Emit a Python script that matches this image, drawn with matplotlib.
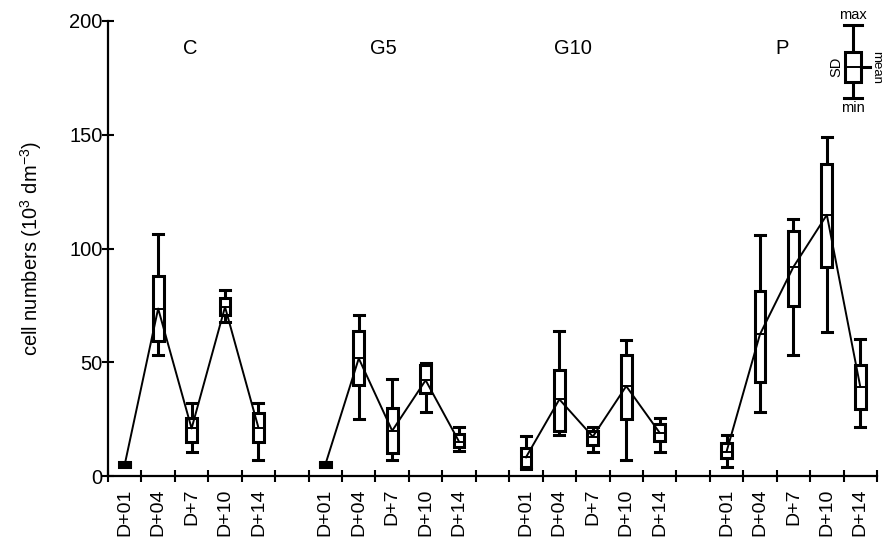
import numpy as np
import matplotlib
matplotlib.use("Agg")
import matplotlib.pyplot as plt

plt.rcParams['font.family'] = ['Liberation Sans', 'DejaVu Sans']
plt.rcParams['mathtext.default'] = 'regular'

# groups and sampling days
groups = ["C", "G5", "G10", "P"]
days = ["D+01", "D+04", "D+7", "D+10", "D+14"]

# mean, box (mean - SD / mean + SD), whiskers (min / max)
c_mean = [5.0, 73.6, 20.9, 74.3, 21.2]
c_lo = [3.9, 59.4, 15.1, 70.7, 14.8]
c_hi = [6.1, 87.8, 25.3, 78.3, 27.9]
c_min = [4.3, 53.4, 10.4, 67.5, 7.0]
c_max = [5.7, 106.5, 31.9, 81.6, 32.2]

g5_mean = [5.0, 51.7, 19.9, 42.1, 15.1]
g5_lo = [3.9, 39.9, 10.0, 36.3, 12.6]
g5_hi = [6.1, 63.8, 30.0, 48.7, 18.3]
g5_min = [4.3, 25.0, 7.0, 28.1, 11.0]
g5_max = [5.7, 70.7, 42.6, 49.5, 21.5]

g10_mean = [8.2, 33.7, 17.3, 39.5, 19.0]
g10_lo = [3.8, 19.9, 13.6, 25.0, 15.4]
g10_hi = [12.4, 46.5, 19.8, 53.4, 22.7]
g10_min = [3.0, 17.9, 10.7, 6.9, 10.7]
g10_max = [17.7, 63.8, 21.5, 60.0, 25.3]

p_mean = [10.7, 62.3, 91.9, 114.8, 39.2]
p_lo = [7.8, 41.4, 74.6, 91.9, 29.3]
p_hi = [14.3, 81.3, 107.5, 137.3, 49.0]
p_min = [4.1, 28.0, 53.1, 63.3, 21.6]
p_max = [18.0, 106.1, 113.1, 149.0, 60.1]

# where each group starts on the x axis (one empty slot between groups)
group_start = [0, 6, 12, 18]
group_label_x = [1.95, 7.75, 13.4, 19.65]

data = [
    (c_mean, c_lo, c_hi, c_min, c_max),
    (g5_mean, g5_lo, g5_hi, g5_min, g5_max),
    (g10_mean, g10_lo, g10_hi, g10_min, g10_max),
    (p_mean, p_lo, p_hi, p_min, p_max),
]

fig = plt.figure(figsize=(8.82, 5.4), dpi=100)
ax = fig.add_axes([108 / 882, 64 / 540, 769 / 882, 455 / 540])

box_w = 0.32
cap_w = 0.3
lw_box = 2.2


def draw_box(x, mean, lo, hi, mn, mx, w=box_w, cw=cap_w, lw=lw_box):
    # whiskers
    ax.plot([x, x], [hi, mx], color="black", lw=lw, solid_capstyle="butt", clip_on=False)
    ax.plot([x, x], [mn, lo], color="black", lw=lw, solid_capstyle="butt", clip_on=False)
    ax.plot([x - cw / 2, x + cw / 2], [mx, mx], color="black", lw=lw, clip_on=False, zorder=3)
    ax.plot([x - cw / 2, x + cw / 2], [mn, mn], color="black", lw=lw, clip_on=False, zorder=3)
    # box (mean +/- SD)
    ax.add_patch(plt.Rectangle((x - w / 2, lo), w, hi - lo, facecolor="white",
                               edgecolor="black", lw=lw, clip_on=False, zorder=2))
    ax.plot([x - w / 2, x + w / 2], [mean, mean], color="black", lw=1.4, zorder=3)


for (mean, lo, hi, mn, mx), start in zip(data, group_start):
    xs = np.arange(len(days)) + start
    for i, x in enumerate(xs):
        draw_box(x, mean[i], lo[i], hi[i], mn[i], mx[i])
    ax.plot(xs, mean, color="black", lw=1.4, zorder=4)

for name, gx in zip(groups, group_label_x):
    ax.text(gx, 188, name, ha="center", va="center", fontsize=14.5)

# legend key (top right)
kx = 21.78
draw_box(kx, 179.7, 173.4, 186.3, 166.2, 198.4, w=0.5, cw=0.55, lw=2.2)
ax.plot([kx + 0.25, kx + 0.5], [179.7, 179.7], color="black", lw=2.2, clip_on=False)
ax.text(kx, 199.5, "max", ha="center", va="bottom", fontsize=10.5)
ax.text(kx, 165.0, "min", ha="center", va="top", fontsize=10.5)
ax.text(kx - 0.5, 179.7, "SD", ha="center", va="center", rotation=90, fontsize=10.5)
ax.text(kx + 0.69, 179.7, "mean", ha="center", va="center", rotation=-90, fontsize=9.5,
        clip_on=False)

# axes styling
ax.set_xlim(-0.5, 22.5)
ax.set_ylim(0, 200)
for side in ["top", "right"]:
    ax.spines[side].set_visible(False)
for side in ["left", "bottom"]:
    ax.spines[side].set_linewidth(1.6)

centers = []
labels = []
for start in group_start:
    centers += list(np.arange(len(days)) + start)
    labels += days
ax.set_xticks(centers)
ax.set_xticklabels(labels, rotation=90, fontsize=14)
ax.set_xticks(np.arange(-0.5, 23, 1.0), minor=True)
ax.tick_params(axis="x", which="major", length=0, pad=9)
ax.tick_params(axis="x", which="minor", direction="inout", length=8, width=1.5)

ax.set_yticks([0, 50, 100, 150, 200])
ax.tick_params(axis="y", direction="inout", length=9, width=1.5, labelsize=14.5, pad=-0.5)
ax.set_ylabel("cell numbers (10$^3$ dm$^{-3}$)", fontsize=14.5, labelpad=18)

fig.savefig("out.png", dpi=100)
